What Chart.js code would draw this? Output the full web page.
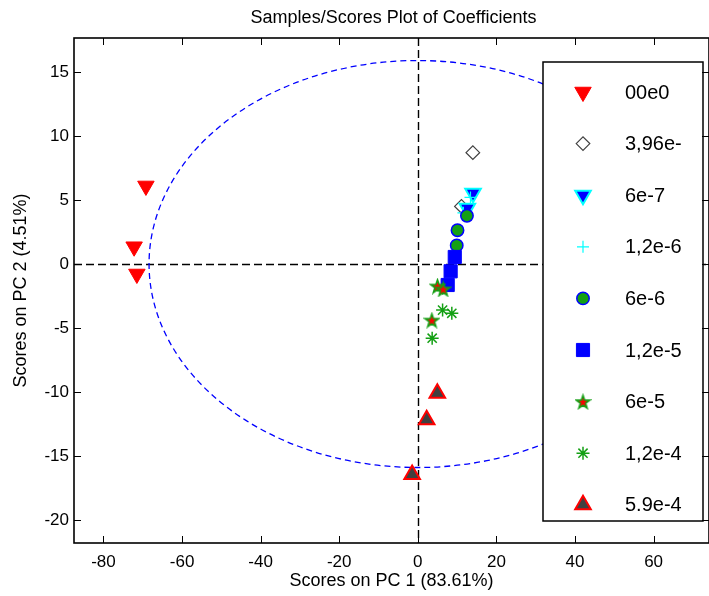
<!DOCTYPE html>
<html>
<head>
<meta charset="utf-8">
<script src="https://cdn.jsdelivr.net/npm/chart.js@4.4.0/dist/chart.umd.min.js"></script>
<style>
    html, body { margin: 0; padding: 0; background: #fff; overflow: hidden; }
    canvas { display: block; }
</style>
</head>
<body>
<canvas id="scoresChart" width="709" height="596"></canvas>
<script>
// Scores: PC 1 (x) and PC 2 (y) for each sample group
const seriesLabels = ['00e0', '3,96e-', '6e-7', '1,2e-6', '6e-6', '1,2e-5', '6e-5', '1,2e-4', '5.9e-4'];

const pc1_00e0 = [-69.2, -72.2, -71.5];
const pc2_00e0 = [6.1, 1.35, -0.78];
const pc1_396e = [14.0, 11.1];
const pc2_396e = [8.7, 4.5];
const pc1_6e7 = [14.05, 12.6];
const pc2_6e7 = [5.53, 4.35];
const pc1_12e6 = [11.6, 13.4];
const pc2_12e6 = [4.0, 5.2];
const pc1_6e6 = [12.5, 10.1, 9.9];
const pc2_6e6 = [3.77, 2.64, 1.45];
const pc1_12e5 = [9.4, 8.35, 7.6];
const pc2_12e5 = [0.55, -0.57, -1.64];
const pc1_6e5 = [5.0, 6.45, 3.56];
const pc2_6e5 = [-1.72, -1.95, -4.38];
const pc1_12e4 = [6.3, 8.65, 3.65];
const pc2_12e4 = [-3.6, -3.85, -5.8];
const pc1_59e4 = [4.96, 2.25, -1.45];
const pc2_59e4 = [-10.1, -12.16, -16.45];

// axes
const xTicks = [-80, -60, -40, -20, 0, 20, 40, 60];
const yTicks = [-20, -15, -10, -5, 0, 5, 10, 15];
const xLimits = [-87.5, 74.1];
const yLimits = [-21.8, 17.66];

// 95% confidence ellipse (centre and semi-axes, in score units)
const ellipseCenter = [0, 0];
const ellipseRadii = [68.4, 15.9];

const GREEN = '#14a014';

Chart.defaults.font.family = "'Liberation Sans', Arial, Helvetica, sans-serif";
Chart.defaults.color = '#000';

// filled pentagram used for the 6e-5 samples
function makePentagram(size, fill, stroke) {
    const c = document.createElement('canvas');
    c.width = size;
    c.height = size;
    const g = c.getContext('2d');
    const cx = size / 2, cy = size / 2 + 0.8;
    const ro = size / 2 - 1.5, ri = ro * 0.4;
    g.beginPath();
    for (let i = 0; i < 10; i++) {
        const r = i % 2 ? ri : ro;
        const a = -Math.PI / 2 + i * Math.PI / 5;
        g.lineTo(cx + r * Math.cos(a), cy + r * Math.sin(a));
    }
    g.closePath();
    g.fillStyle = fill;
    g.fill();
    g.lineWidth = 1.6;
    g.strokeStyle = stroke;
    g.stroke();
    return c;
}

function points(xs, ys) {
    return xs.map((x, i) => ({ x: x, y: ys[i] }));
}

const pentagram = makePentagram(17, '#ff0000', GREEN);

const seriesStyles = [
    { pointStyle: 'triangle', rotation: 180, pointRadius: 9.5, backgroundColor: '#ff0000', borderColor: '#ff0000', borderWidth: 1 },
    { pointStyle: 'rectRot', rotation: 0, pointRadius: 6.8, backgroundColor: 'rgba(0,0,0,0)', borderColor: '#404040', borderWidth: 1.2 },
    { pointStyle: 'triangle', rotation: 180, pointRadius: 9, backgroundColor: '#0000ff', borderColor: '#00ffff', borderWidth: 2 },
    { pointStyle: 'cross', rotation: 0, pointRadius: 6, backgroundColor: '#00ffff', borderColor: '#00ffff', borderWidth: 1.2 },
    { pointStyle: 'circle', rotation: 0, pointRadius: 6.2, backgroundColor: GREEN, borderColor: '#0000ff', borderWidth: 1.5 },
    { pointStyle: 'rect', rotation: 0, pointRadius: 9.3, backgroundColor: '#0000ff', borderColor: '#0000ff', borderWidth: 1 },
    { pointStyle: pentagram, rotation: 0, pointRadius: 8, backgroundColor: '#ff0000', borderColor: GREEN, borderWidth: 1 },
    { pointStyle: 'star', rotation: 0, pointRadius: 6.5, backgroundColor: GREEN, borderColor: GREEN, borderWidth: 1.5 },
    { pointStyle: 'triangle', rotation: 0, pointRadius: 9, backgroundColor: '#404040', borderColor: '#ff0000', borderWidth: 2 }
];

const seriesPoints = [
    points(pc1_00e0, pc2_00e0),
    points(pc1_396e, pc2_396e),
    points(pc1_6e7, pc2_6e7),
    points(pc1_12e6, pc2_12e6),
    points(pc1_6e6, pc2_6e6),
    points(pc1_12e5, pc2_12e5),
    points(pc1_6e5, pc2_6e5),
    points(pc1_12e4, pc2_12e4),
    points(pc1_59e4, pc2_59e4)
];

const datasets = seriesLabels.map((label, i) => Object.assign({
    label: label,
    data: seriesPoints[i],
    showLine: false,
    pointHoverRadius: seriesStyles[i].pointRadius,
    order: seriesLabels.length - i
}, seriesStyles[i]));

/**
 * Zero lines, ellipse, MATLAB style frame with inward ticks, title and legend box
 */
const plotDecorations = {
    id: 'plotDecorations',
    beforeDatasetsDraw(chart) {
        const { ctx, chartArea: a, scales: { x, y } } = chart;
        ctx.save();
        ctx.beginPath();
        ctx.rect(a.left, a.top, a.width, a.height);
        ctx.clip();

        const x0 = Math.round(x.getPixelForValue(0)) + 0.5;
        const y0 = Math.round(y.getPixelForValue(0)) + 0.5;
        ctx.strokeStyle = '#000';
        ctx.lineWidth = 1.4;
        ctx.setLineDash([8, 4]);
        ctx.beginPath();
        ctx.moveTo(a.left, y0);
        ctx.lineTo(a.right, y0);
        ctx.moveTo(x0, a.top);
        ctx.lineTo(x0, a.bottom);
        ctx.stroke();

        const cx = x.getPixelForValue(ellipseCenter[0]);
        const cy = y.getPixelForValue(ellipseCenter[1]);
        const rx = Math.abs(x.getPixelForValue(ellipseCenter[0] + ellipseRadii[0]) - cx);
        const ry = Math.abs(y.getPixelForValue(ellipseCenter[1] + ellipseRadii[1]) - cy);
        ctx.strokeStyle = '#0000ff';
        ctx.lineWidth = 1.3;
        ctx.setLineDash([6, 4]);
        ctx.beginPath();
        ctx.ellipse(cx, cy, rx, ry, 0, 0, Math.PI * 2);
        ctx.stroke();
        ctx.restore();
    },
    afterDatasetsDraw(chart) {
        const { ctx, chartArea: a } = chart;
        // legend box in the upper right of the axes
        const box = { left: a.right - 166, top: a.top + 24, width: 160, height: 459 };
        ctx.save();
        ctx.fillStyle = '#fff';
        ctx.fillRect(box.left, box.top, box.width, box.height);
        ctx.strokeStyle = '#000';
        ctx.lineWidth = 1.5;
        ctx.strokeRect(box.left, box.top, box.width, box.height);

        ctx.font = "20px 'Liberation Sans', Arial, sans-serif";
        ctx.textBaseline = 'middle';
        ctx.textAlign = 'left';
        chart.data.datasets.forEach((ds, i) => {
            const rowY = box.top + 30 + i * 51.6;
            ctx.fillStyle = ds.backgroundColor;
            ctx.strokeStyle = ds.borderColor;
            ctx.lineWidth = ds.borderWidth;
            Chart.helpers.drawPoint(ctx, {
                pointStyle: ds.pointStyle,
                radius: ds.pointRadius,
                rotation: ds.rotation,
                borderWidth: ds.borderWidth
            }, box.left + 40, rowY);
            ctx.fillStyle = '#000';
            ctx.fillText(ds.label, box.left + 82, rowY + 1);
        });
        ctx.restore();
    },
    afterDraw(chart) {
        const { ctx, chartArea: a, scales: { x, y } } = chart;
        ctx.save();
        ctx.strokeStyle = '#000';
        ctx.lineWidth = 1.6;
        ctx.setLineDash([]);
        ctx.strokeRect(a.left, a.top, a.width, a.height);

        const tl = 7;
        ctx.lineWidth = 1;
        ctx.beginPath();
        xTicks.forEach(v => {
            const px = Math.round(x.getPixelForValue(v)) + 0.5;
            ctx.moveTo(px, a.bottom);
            ctx.lineTo(px, a.bottom - tl);
            ctx.moveTo(px, a.top);
            ctx.lineTo(px, a.top + tl);
        });
        yTicks.forEach(v => {
            const py = Math.round(y.getPixelForValue(v)) + 0.5;
            ctx.moveTo(a.left, py);
            ctx.lineTo(a.left + tl, py);
            ctx.moveTo(a.right, py);
            ctx.lineTo(a.right - tl, py);
        });
        ctx.stroke();

        ctx.fillStyle = '#000';
        ctx.font = "18px 'Liberation Sans', Arial, sans-serif";
        ctx.textAlign = 'center';
        ctx.textBaseline = 'middle';
        ctx.fillText('Samples/Scores Plot of Coefficients', (a.left + a.right) / 2 + 2, 18);
        ctx.restore();
    }
};

function createScoresChart() {
    const ctx = document.getElementById('scoresChart');
    if (!ctx) return;

    new Chart(ctx, {
        type: 'scatter',
        data: { datasets: datasets },
        options: {
            responsive: false,
            animation: false,
            layout: {
                autoPadding: false,
                padding: { top: 38, right: 0, bottom: 0, left: 0 }
            },
            plugins: {
                legend: { display: false },
                title: { display: false },
                tooltip: { enabled: false }
            },
            scales: {
                x: {
                    type: 'linear',
                    min: xLimits[0],
                    max: xLimits[1],
                    grid: { display: false, drawTicks: false },
                    border: { display: false },
                    ticks: {
                        font: { size: 17 },
                        color: '#000',
                        padding: 9,
                        autoSkip: false,
                        maxRotation: 0
                    },
                    afterBuildTicks: scale => {
                        scale.ticks = xTicks.map(v => ({ value: v }));
                    },
                    afterFit: scale => {
                        scale.height = 53;
                        scale.paddingLeft = 0;
                        scale.paddingRight = 0;
                    },
                    title: {
                        display: true,
                        text: 'Scores on PC 1 (83.61%)',
                        font: { size: 18 },
                        color: '#000',
                        padding: { top: 0, bottom: 4 }
                    }
                },
                y: {
                    type: 'linear',
                    min: yLimits[0],
                    max: yLimits[1],
                    grid: { display: false, drawTicks: false },
                    border: { display: false },
                    ticks: {
                        font: { size: 17 },
                        color: '#000',
                        padding: 5,
                        autoSkip: false
                    },
                    afterBuildTicks: scale => {
                        scale.ticks = yTicks.map(v => ({ value: v }));
                    },
                    afterFit: scale => {
                        scale.width = 74;
                        scale.paddingTop = 0;
                        scale.paddingBottom = 0;
                    },
                    title: {
                        display: true,
                        text: 'Scores on PC 2 (4.51%)',
                        font: { size: 18 },
                        color: '#000',
                        padding: { top: 10, bottom: 0 }
                    }
                }
            }
        },
        plugins: [plotDecorations]
    });
}

document.addEventListener('DOMContentLoaded', createScoresChart);
</script>
</body>
</html>
